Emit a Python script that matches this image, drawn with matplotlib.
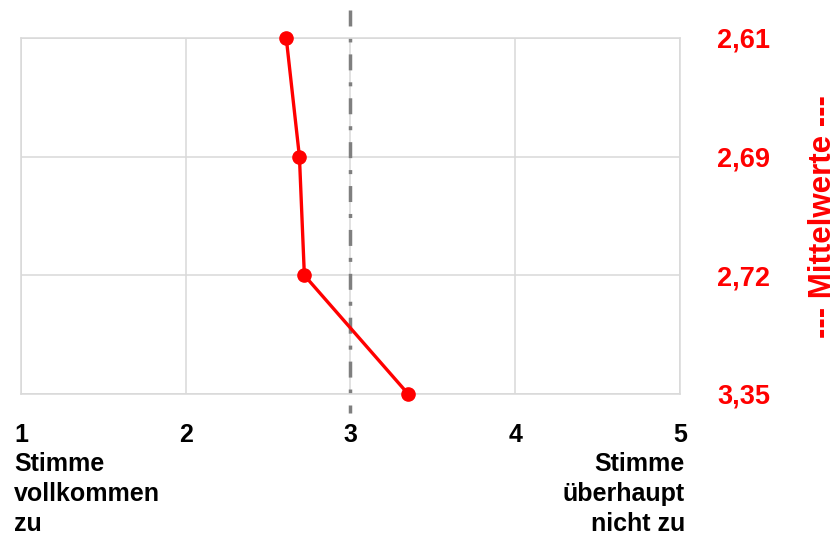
import matplotlib.pyplot as plt

plt.rcParams['font.family'] = ['Liberation Sans', 'DejaVu Sans']
plt.rcParams['lines.scale_dashes'] = False

# Mittelwerte, von oben nach unten
means = [2.61, 2.69, 2.72, 3.35]
mean_labels = ["2,61", "2,69", "2,72", "3,35"]
x_ticks = [1, 2, 3, 4, 5]
scale_mid = 3
left_label = "Stimme\nvollkommen\nzu"
right_label = "Stimme\nüberhaupt\nnicht zu"
axis_title = "--- Mittelwerte ---"

ypos = list(range(len(means) - 1, -1, -1))

fig = plt.figure(figsize=(8.37, 5.38), dpi=100)
ax = fig.add_axes([21 / 837, 1 - 394 / 538, (680 - 21) / 837, (394 - 38) / 538])

ax.set_xlim(1, 5)
ax.set_ylim(0, len(means) - 1)

# Raster
ax.set_xticks(x_ticks)
ax.set_yticks(ypos)
ax.grid(True, color="#d9d9d9", linewidth=1.1)
for s in ax.spines.values():
    s.set_color("#d9d9d9")
    s.set_linewidth(1.1)
ax.set_axisbelow(True)

# Mitte der Skala
ax.plot([scale_mid, scale_mid], [3 + 0.079 * 3, -0.053 * 3], color="#7f7f7f",
        linewidth=2.5, dashes=(11.5, 8.6, 2.9, 8.6), clip_on=False, zorder=2)

ax.plot(means, ypos, color="#ff0000", linewidth=2.4, marker="o",
        markersize=9.5, clip_on=False, zorder=3)

ax.tick_params(axis="x", length=0, pad=21, labelsize=18, labelcolor="black")
ax.set_xticklabels([str(t) for t in x_ticks], fontweight="bold")

ax.yaxis.tick_right()
ax.tick_params(axis="y", length=0, pad=27, labelsize=19.5, labelcolor="#ff0000")
ax.set_yticklabels(mean_labels, fontweight="bold")

fig.text(14 / 837, 1 - 452 / 538, left_label, ha="left", va="top",
         fontsize=18, fontweight="bold", linespacing=1.32)
fig.text(685 / 837, 1 - 452 / 538, right_label, ha="right", va="top",
         fontsize=18, fontweight="bold", linespacing=1.32)
fig.text(823 / 837, 1 - 217 / 538, axis_title, rotation=90, ha="center", va="center",
         fontsize=22.5, fontweight="bold", color="#ff0000")

fig.savefig("out.png", dpi=100)
